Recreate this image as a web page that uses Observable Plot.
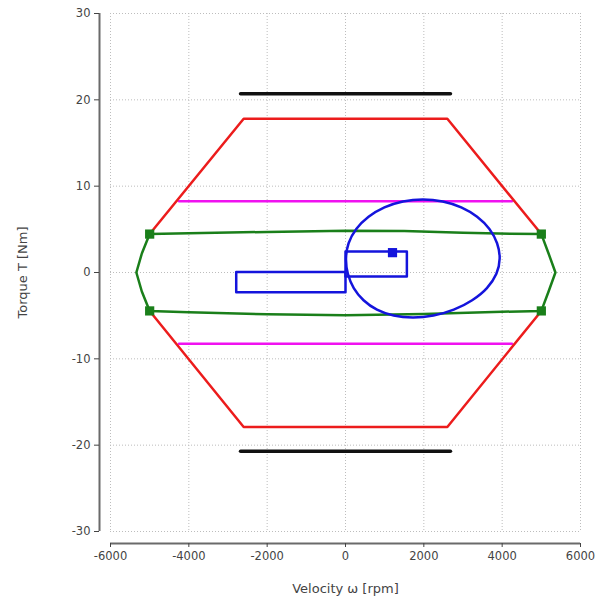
<!DOCTYPE html>
<html>
<head>
<meta charset="utf-8">
<script src="https://cdn.jsdelivr.net/npm/d3@7"></script>
<script src="https://cdn.jsdelivr.net/npm/@observablehq/plot@0.6"></script>
<style>
  html, body { margin: 0; padding: 0; background: #fff; }
</style>
</head>
<body>
<div id="chart"></div>
<script>
// ---- data (speed in rpm, torque in Nm) ----
const xTicks = [-6000, -4000, -2000, 0, 2000, 4000, 6000];
const yTicks = [-30, -20, -10, 0, 10, 20, 30];

// black peak-torque limits
const limitSpeed = [-2680, 2680];
const limitTorqueTop = [20.7, 20.7];
const limitTorqueBottom = [-20.7, -20.7];

// red envelope
const envSpeed = [-5000, -2600, 2600, 5000];
const envTorqueTop = [4.45, 17.8, 17.8, 4.45];
const envTorqueBottom = [-4.45, -17.9, -17.9, -4.45];

// magenta lines
const magSpeed = [-4250, 4250];
const magTorqueTop = [8.25, 8.25];
const magTorqueBottom = [-8.25, -8.25];

// green continuous region
const greenSpeed = [-5000, -4000, -2000, 0, 1500, 3000, 4200, 5000, 5185, 5360, 5185, 5000, 4000, 2000, 0, -2000, -4000, -5000, -5200, -5340, -5200, -5000];
const greenTorque = [4.45, 4.55, 4.7, 4.85, 4.8, 4.6, 4.48, 4.45, 2.2, 0, -2.2, -4.45, -4.55, -4.8, -4.95, -4.85, -4.6, -4.45, -2.2, 0, 2.2, 4.45];

// green corner markers
const cornerSpeed = [-5000, 5000, 5000, -5000];
const cornerTorque = [4.45, 4.45, -4.45, -4.45];

// blue trajectory loop (read around the egg-shaped curve)
const loopSpeed = [3936, 3870, 3674, 3360, 2955, 2482, 1975, 1468, 994, 589, 275, 79, 13, 61, 211, 461, 803, 1231, 1720, 2245, 2764, 3233, 3610, 3852];
const loopTorque = [1.62, 3.39, 5.04, 6.45, 7.54, 8.22, 8.46, 8.22, 7.54, 6.45, 5.04, 3.39, 1.62, -0.15, -1.8, -3.21, -4.3, -4.98, -5.21, -4.98, -4.3, -3.21, -1.8, -0.15];

// blue rectangular paths
const rectASpeed = [0, 1567, 1567, 0, 0];
const rectATorque = [2.43, 2.43, -0.46, -0.46, 2.43];
const rectBSpeed = [-2790, 0, 0, -2790, -2790];
const rectBTorque = [0.05, 0.05, -2.28, -2.28, 0.05];

// operating point
const opSpeed = [1200];
const opTorque = [2.3];

const xLabel = "Velocity ω [rpm]";
const yLabel = "Torque T [Nm]";

// ---- build tables ----
const pts = (xs, ys) => xs.map((x, i) => ({x, y: ys[i]}));

const chart = Plot.plot({
  width: 601,
  height: 597,
  marginLeft: 110,
  marginRight: 21,
  marginTop: 13,
  marginBottom: 66,
  x: {domain: [xTicks[0], xTicks[xTicks.length - 1]]},
  y: {domain: [yTicks[0], yTicks[yTicks.length - 1]]},
  style: {fontFamily: "DejaVu Sans", fontSize: "11px", background: "#fff", color: "#444"},
  marks: [
    // grid
    Plot.ruleX(xTicks, {stroke: "#bdbdbd", strokeDasharray: "1,2", strokeWidth: 1}),
    Plot.ruleY(yTicks, {stroke: "#bdbdbd", strokeDasharray: "1,2", strokeWidth: 1}),
    // detached axis lines
    Plot.ruleX([xTicks[0]], {dx: -11, stroke: "#6a6a6a", strokeWidth: 2}),
    Plot.ruleY([yTicks[0]], {dy: 12, stroke: "#6a6a6a", strokeWidth: 2}),
    Plot.axisY(yTicks, {anchor: "left", dx: -11, tickSize: 5, tickPadding: 4, label: null, tickFormat: d => String(d), fill: "#444", stroke: "#444", fontSize: 11.5}),
    Plot.axisX(xTicks, {anchor: "bottom", dy: 12, tickSize: 4, tickPadding: 4, label: null, tickFormat: d => String(d), fill: "#444", stroke: "#444", fontSize: 11.5}),
    Plot.text([xLabel], {frameAnchor: "bottom", dy: 57, text: d => d, fill: "#444", fontSize: 13, textAnchor: "middle", lineAnchor: "middle"}),
    Plot.text([yLabel], {frameAnchor: "left", dx: -88, rotate: -90, text: d => d, fill: "#444", fontSize: 13, textAnchor: "middle", lineAnchor: "middle"}),
    // black limits
    Plot.line(pts(limitSpeed, limitTorqueTop), {x: "x", y: "y", stroke: "#111", strokeWidth: 3.5}),
    Plot.line(pts(limitSpeed, limitTorqueBottom), {x: "x", y: "y", stroke: "#111", strokeWidth: 3.5}),
    // magenta
    Plot.line(pts(magSpeed, magTorqueTop), {x: "x", y: "y", stroke: "#f012f0", strokeWidth: 2.5}),
    Plot.line(pts(magSpeed, magTorqueBottom), {x: "x", y: "y", stroke: "#f012f0", strokeWidth: 2.5}),
    // red envelope
    Plot.line(pts(envSpeed, envTorqueTop), {x: "x", y: "y", stroke: "#ec1c1c", strokeWidth: 2.5}),
    Plot.line(pts(envSpeed, envTorqueBottom), {x: "x", y: "y", stroke: "#ec1c1c", strokeWidth: 2.5}),
    // green region
    Plot.line(pts(greenSpeed, greenTorque), {x: "x", y: "y", stroke: "#1a7f1a", strokeWidth: 2.5}),
    Plot.dot(pts(cornerSpeed, cornerTorque), {x: "x", y: "y", symbol: "square", r: 5.2, fill: "#1a7f1a"}),
    // blue trajectory
    Plot.line(pts(loopSpeed, loopTorque), {x: "x", y: "y", stroke: "#1414dc", strokeWidth: 2.5, curve: "catmull-rom-closed"}),
    Plot.line(pts(rectASpeed, rectATorque), {x: "x", y: "y", stroke: "#1414dc", strokeWidth: 2.5}),
    Plot.line(pts(rectBSpeed, rectBTorque), {x: "x", y: "y", stroke: "#1414dc", strokeWidth: 2.5}),
    Plot.dot(pts(opSpeed, opTorque), {x: "x", y: "y", symbol: "square", r: 5.2, fill: "#1414dc"})
  ]
});
document.getElementById("chart").appendChild(chart);
</script>
</body>
</html>
